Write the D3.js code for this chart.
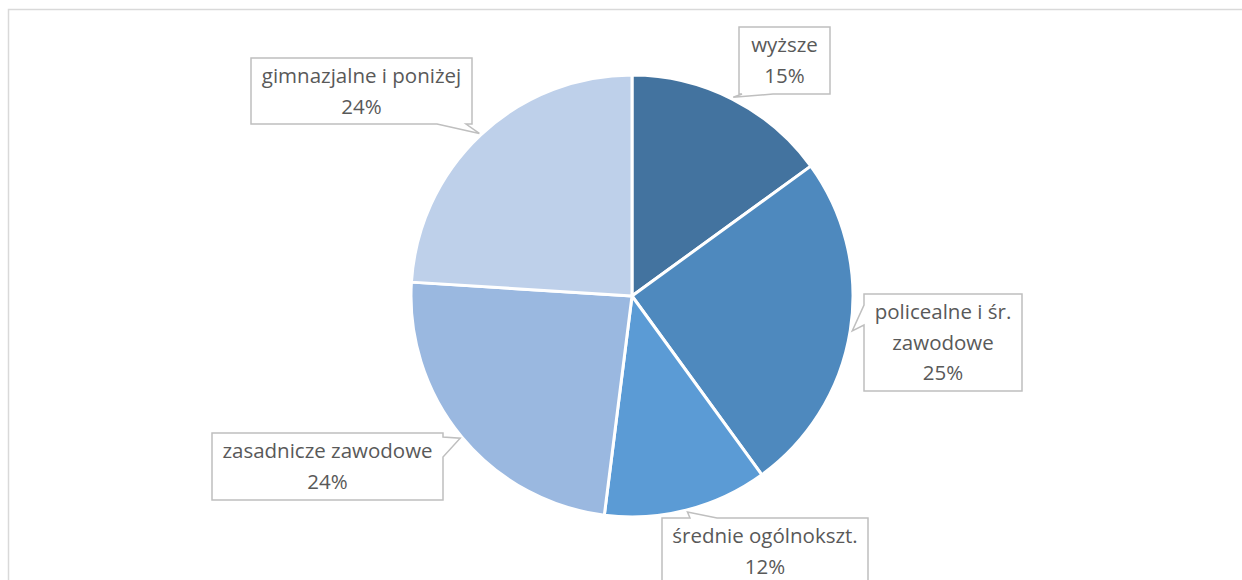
<!DOCTYPE html>
<html>
<head>
<meta charset="utf-8">
<script src="https://cdn.jsdelivr.net/npm/d3@7"></script>
<style>
  html, body { margin: 0; padding: 0; background: #ffffff; }
  svg { display: block; }
</style>
</head>
<body>
<svg id="chart" width="1242" height="580"></svg>
<script>
// Education level shares (percent), clockwise from 12 o'clock
const categories = ["wyższe", "policealne i śr. zawodowe", "średnie ogólnokszt.", "zasadnicze zawodowe", "gimnazjalne i poniżej"];
const labelLines = [["wyższe"], ["policealne i śr.", "zawodowe"], ["średnie ogólnokszt."], ["zasadnicze zawodowe"], ["gimnazjalne i poniżej"]];
const values = [15, 25, 12, 24, 24];
const colors = ["#43739f", "#4e89be", "#5b9bd5", "#9ab8e0", "#bed0ea"];

// Callout boxes: position, size and the edge the pointer leaves from
const callouts = [
  { x: 739, y: 27,  w: 91,  h: 67, side: "bottom", a: 742, b: 773 },
  { x: 864, y: 294, w: 158, h: 97, side: "left",   a: 305, b: 325 },
  { x: 662, y: 518, w: 206, h: 90, side: "top",    a: 690, b: 717 },
  { x: 212, y: 433, w: 231, h: 67, side: "right",  a: 437, b: 457 },
  { x: 251, y: 58,  w: 221, h: 66, side: "bottom", a: 437, b: 466 }
];

const svg = d3.select("#chart");
const cx = 632, cy = 296, r = 221;

// Outer chart frame
svg.append("path")
  .attr("d", "M8.5,590 L8.5,9.5 L1250,9.5")
  .attr("fill", "none")
  .attr("stroke", "#d9d9d9")
  .attr("stroke-width", 1.5);

const pie = d3.pie().sort(null).value(d => d)(values);
const arc = d3.arc().innerRadius(0).outerRadius(r);

const g = svg.append("g").attr("transform", `translate(${cx},${cy})`);
g.selectAll("path.slice")
  .data(pie)
  .join("path")
  .attr("class", "slice")
  .attr("d", arc)
  .attr("fill", (d, i) => colors[i])
  .attr("stroke", "#ffffff")
  .attr("stroke-width", 3)
  .attr("stroke-linejoin", "round");

// Callout shape: rectangle with a wedge pointing to the slice's outer edge
function calloutPath(c, tip) {
  const x0 = c.x, y0 = c.y, x1 = c.x + c.w, y1 = c.y + c.h;
  const t = `${tip[0]},${tip[1]}`;
  switch (c.side) {
    case "bottom":
      return `M${x0},${y0} L${x1},${y0} L${x1},${y1} L${c.b},${y1} L${t} L${c.a},${y1} L${x0},${y1} Z`;
    case "top":
      return `M${x0},${y0} L${c.a},${y0} L${t} L${c.b},${y0} L${x1},${y0} L${x1},${y1} L${x0},${y1} Z`;
    case "left":
      return `M${x0},${y0} L${x1},${y0} L${x1},${y1} L${x0},${y1} L${x0},${c.b} L${t} L${x0},${c.a} Z`;
    case "right":
      return `M${x0},${y0} L${x1},${y0} L${x1},${c.a} L${t} L${x1},${c.b} L${x1},${y1} L${x0},${y1} Z`;
  }
}

const lab = svg.append("g").selectAll("g.callout")
  .data(pie)
  .join("g")
  .attr("class", "callout");

lab.append("path")
  .attr("d", (d, i) => {
    const m = (d.startAngle + d.endAngle) / 2;
    const tip = [cx + (r + 2) * Math.sin(m), cy - (r + 2) * Math.cos(m)];
    return calloutPath(callouts[i], tip);
  })
  .attr("fill", "#ffffff")
  .attr("stroke", "#bfbfbf")
  .attr("stroke-width", 1.5)
  .attr("stroke-linejoin", "miter");

const lineH = 30.5;
lab.each(function (d, i) {
  const c = callouts[i];
  const lines = labelLines[i].concat([d3.format(".0f")(d.data) + "%"]);
  const top = c.y + 20;
  const t = d3.select(this).append("text")
    .attr("text-anchor", "middle")
    .attr("font-family", "'Open Sans', 'Noto Sans', sans-serif")
    .attr("font-size", 20.5)
    .attr("fill", "#595959");
  lines.forEach((s, k) => {
    t.append("tspan")
      .attr("x", c.x + c.w / 2)
      .attr("y", top + k * lineH)
      .attr("dominant-baseline", "middle")
      .text(s);
  });
});
</script>
</body>
</html>
